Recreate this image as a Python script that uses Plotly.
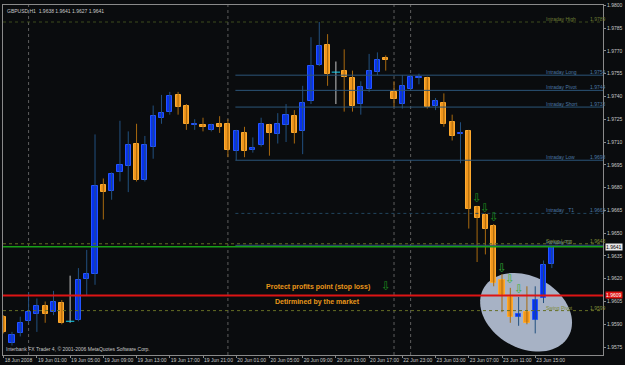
import numpy as np
import pandas as pd
import plotly.graph_objects as go

# ---------------- data ----------------
symbol_title = "GBPUSD,H1  1.9638 1.9641 1.9627 1.9641"
copyright_text = "Interbank FX Trader 4, © 2001-2006 MetaQuotes Software Corp."

bar_times = (list(pd.date_range("2008-06-18 21:00", "2008-06-20 19:00", freq="h"))
             + list(pd.date_range("2008-06-22 22:00", "2008-06-23 17:00", freq="h")))

open_ = [1.9595, 1.9578, 1.9584, 1.9592, 1.9597, 1.9602, 1.9598, 1.9604, 1.9592, 1.9593,
         1.9620, 1.9623, 1.9682, 1.9678, 1.9690, 1.9694, 1.9709, 1.9685, 1.9707, 1.9726,
         1.9730, 1.9741, 1.9734, 1.9721, 1.9721, 1.9718, 1.9722, 1.9722, 1.9704, 1.9716,
         1.9705, 1.9708, 1.9721, 1.9715, 1.9721, 1.9727, 1.9717, 1.9737, 1.9761, 1.9774,
         1.9756, 1.9757, 1.9752, 1.9735, 1.9745, 1.9756, 1.9765, 1.9743, 1.9735, 1.9745,
         1.9752, 1.9752, 1.9734, 1.9736, 1.9723, 1.9715, 1.9717, 1.9667, 1.9662, 1.9655,
         1.9619, 1.9608, 1.9595, 1.9598, 1.9593, 1.9607, 1.9630]
high = [1.9596, 1.9585, 1.9595, 1.9611, 1.9607, 1.9605, 1.9612, 1.9606, 1.9622, 1.9627,
        1.9639, 1.9715, 1.9686, 1.9690, 1.9724, 1.9717, 1.9722, 1.9714, 1.9734, 1.9741,
        1.9743, 1.9743, 1.9735, 1.9725, 1.9726, 1.9722, 1.9727, 1.9725, 1.9718, 1.9720,
        1.9713, 1.9726, 1.9722, 1.9729, 1.9735, 1.9731, 1.9747, 1.9779, 1.9789, 1.9781,
        1.9763, 1.9771, 1.9757, 1.9750, 1.9768, 1.9769, 1.9767, 1.9750, 1.9754, 1.9754,
        1.9755, 1.9753, 1.9739, 1.9742, 1.9728, 1.9723, 1.9718, 1.9668, 1.9663, 1.9656,
        1.9623, 1.9614, 1.9608, 1.9615, 1.9615, 1.9632, 1.9641]
low = [1.9584, 1.9576, 1.9582, 1.9591, 1.9585, 1.9591, 1.9596, 1.9590, 1.9591, 1.9592,
       1.9609, 1.9616, 1.9659, 1.9672, 1.9684, 1.9677, 1.9684, 1.9684, 1.9699, 1.9722,
       1.9728, 1.9728, 1.9718, 1.9718, 1.9717, 1.9717, 1.9716, 1.9700, 1.9698, 1.9700,
       1.9703, 1.9707, 1.9701, 1.9709, 1.9710, 1.9709, 1.9702, 1.9735, 1.9760, 1.9747,
       1.9735, 1.9730, 1.9730, 1.9728, 1.9743, 1.9754, 1.9757, 1.9733, 1.9732, 1.9744,
       1.9748, 1.9732, 1.9731, 1.9720, 1.9711, 1.9696, 1.9653, 1.9631, 1.9636, 1.9615,
       1.9598, 1.9591, 1.9589, 1.9590, 1.9584, 1.9604, 1.9627]
close = [1.9585, 1.9583, 1.9591, 1.9598, 1.9602, 1.9597, 1.9605, 1.9591, 1.9592, 1.9619,
         1.9623, 1.9681, 1.9677, 1.9689, 1.9695, 1.9708, 1.9685, 1.9708, 1.9727, 1.9729,
         1.9740, 1.9733, 1.9722, 1.9722, 1.9720, 1.9721, 1.9720, 1.9705, 1.9717, 1.9704,
         1.9706, 1.9722, 1.9716, 1.9722, 1.9728, 1.9716, 1.9736, 1.9760, 1.9773, 1.9755,
         1.9756, 1.9753, 1.9734, 1.9746, 1.9757, 1.9764, 1.9764, 1.9738, 1.9747, 1.9753,
         1.9753, 1.9733, 1.9737, 1.9722, 1.9714, 1.9716, 1.9666, 1.9660, 1.9653, 1.9617,
         1.9609, 1.9595, 1.9597, 1.9591, 1.9606, 1.9629, 1.9641]

tick_bars = [0, 4, 8, 12, 16, 20, 24, 28, 32, 36, 40, 44, 48, 52, 56, 60, 64]
tick_labels = ["18 Jun 2008", "19 Jun 01:00", "19 Jun 05:00", "19 Jun 09:00", "19 Jun 13:00",
               "19 Jun 17:00", "19 Jun 21:00", "20 Jun 01:00", "20 Jun 05:00", "20 Jun 09:00",
               "20 Jun 13:00", "20 Jun 17:00", "22 Jun 23:00", "23 Jun 03:00", "23 Jun 07:00",
               "23 Jun 11:00", "23 Jun 15:00"]
price_ticks = [1.9575, 1.9590, 1.9605, 1.9620, 1.9635, 1.9650, 1.9665, 1.9680, 1.9695,
               1.9710, 1.9725, 1.9740, 1.9755, 1.9770, 1.9785, 1.9800]

# pivot levels drawn by the indicator
level_names = ["Intraday High", "Intraday Long", "Intraday Pivot", "Intraday Short",
               "Intraday Low", "Intraday   T1", "Intraday T2", "Swing Long", "Swing Pivot"]
level_values = [1.9789, 1.9754, 1.9744, 1.9733, 1.9698, 1.9663, 1.9642, 1.9643, 1.9599]
level_start_bar = [None, 27.9, 27.9, 27.9, 27.9, 27.9, 27.9, None, None]
level_colors = ["#3d4b1d", "#2b5579", "#2b5579", "#2b5579", "#2b5579", "#22465f",
                "#2b5579", "#666f24", "#666f24"]
level_label_colors = ["#6e7d35", "#4a78a5", "#4a78a5", "#4a78a5", "#4a78a5", "#4a78a5",
                      "#4a78a5", "#808c38", "#808c38"]
level_dash = ["dot", "solid", "solid", "solid", "solid", "dot", "solid", "dot", "dot"]
level_show_value = [True, True, True, True, True, True, False, True, True]

current_price = 1.9641
stop_price = 1.9609

# sell signals (bar index, price of arrow)
signal_bars = [46, 57, 58, 59, 60, 61, 62]
signal_prices = [1.96155, 1.96729, 1.96663, 1.96605, 1.96272, 1.96200, 1.96135]
signal_colors = ["#1d8a1d", "#1d8a1d", "#1d8a1d", "#1d8a1d", "#2fa02f", "#3db03d", "#3db03d"]

# ---------------- figure ----------------
W, H = 625, 365
ML, MR, MT, MB = 2, 21, 2, 10
x_range = [-0.08, 72.16]
y_range = [1.956978, 1.98002]
plot_w = W - ML - MR
plot_h = H - MT - MB

BG = "#0a0c0e"
BULL_FILL, BULL_LINE, BULL_WICK = "#0731ee", "#2456ff", "#22507f"
BEAR_FILL, BEAR_LINE, BEAR_WICK = "#f0961c", "#ffaa2e", "#a8690f"
DOJI = "#c4c4c4"
GRAY = "#8a8a8a"
TXT = "#c8c8c8"
FONT = "Liberation Sans"

idx = list(range(len(open_)))
bull = [i for i in idx if close[i] > open_[i]]
bear = [i for i in idx if close[i] < open_[i]]
doji = [i for i in idx if close[i] == open_[i]]


def wick_xy(ids):
    xs, ys = [], []
    for i in ids:
        xs += [i, i, None]
        ys += [low[i], high[i], None]
    return xs, ys


fig = go.Figure()
for ids, wc in ((bull, BULL_WICK), (bear, BEAR_WICK), (doji, DOJI)):
    wx, wy = wick_xy(ids)
    fig.add_trace(go.Scatter(x=wx, y=wy, mode="lines", line=dict(color=wc, width=1),
                             hoverinfo="skip", showlegend=False))

fig.add_trace(go.Bar(x=bull, base=[open_[i] for i in bull],
                     y=[close[i] - open_[i] for i in bull], width=0.62,
                     marker=dict(color=BULL_FILL, line=dict(color=BULL_LINE, width=1)),
                     showlegend=False))
fig.add_trace(go.Bar(x=bear, base=[close[i] for i in bear],
                     y=[open_[i] - close[i] for i in bear], width=0.62,
                     marker=dict(color=BEAR_FILL, line=dict(color=BEAR_LINE, width=1)),
                     showlegend=False))
fig.add_trace(go.Scatter(x=doji, y=[open_[i] for i in doji], mode="markers",
                         marker=dict(symbol="line-ew-open", size=6,
                                     line=dict(color=DOJI, width=1)),
                         showlegend=False))

shapes = []
# highlight ellipse (pixel-sized, rotated) around the reversal
bar_px = plot_w / (x_range[1] - x_range[0])
price_px = plot_h / (y_range[1] - y_range[0])
ell_cx, ell_cy = 62.9, 1.95979
ell_a, ell_b, ell_rot = 49, 36, np.deg2rad(30)
t = np.linspace(0, 2 * np.pi, 80)
dx = ell_a * np.cos(t) * np.cos(ell_rot) - ell_b * np.sin(t) * np.sin(ell_rot)
dy = ell_a * np.cos(t) * np.sin(ell_rot) + ell_b * np.sin(t) * np.cos(ell_rot)
ex = ell_cx + dx / bar_px
ey = ell_cy - dy / price_px
path = "M " + " L ".join(f"{a:.4f},{b:.6f}" for a, b in zip(ex, ey)) + " Z"
shapes.append(dict(type="path", path=path, xref="x", yref="y", layer="below",
                   fillcolor="#a7b2c5", line=dict(width=0)))

# day separators
for i in idx[1:]:
    if bar_times[i].date() != bar_times[i - 1].date():
        shapes.append(dict(type="line", xref="x", yref="paper", x0=i, x1=i, y0=0, y1=1,
                           line=dict(color="#5e5e5e", width=1, dash="dot"), layer="below"))

# level lines
for name, val, st, col, dsh in zip(level_names, level_values, level_start_bar,
                                   level_colors, level_dash):
    shapes.append(dict(type="line", xref="x", yref="y",
                       x0=x_range[0] if st is None else st, x1=x_range[1], y0=val, y1=val,
                       line=dict(color=col, width=1, dash=dsh), layer="above"))
shapes.append(dict(type="line", xref="paper", yref="y", x0=0, x1=1, y0=current_price,
                   y1=current_price, line=dict(color="#18a018", width=1.5), layer="above"))
shapes.append(dict(type="line", xref="paper", yref="y", x0=0, x1=1, y0=stop_price,
                   y1=stop_price, line=dict(color="#dd1414", width=2), layer="above"))

ann = []
for name, val, lc, show in zip(level_names, level_values, level_label_colors, level_show_value):
    ann.append(dict(xref="paper", yref="y", x=(545 - ML) / plot_w, y=val, text=name,
                    xanchor="left", yanchor="middle", yshift=3, showarrow=False,
                    font=dict(family=FONT, size=5, color=lc)))
    if show:
        ann.append(dict(xref="paper", yref="y", x=(589 - ML) / plot_w, y=val,
                        text=f"{val:.4f}", xanchor="left", yanchor="middle", yshift=3,
                        showarrow=False, font=dict(family=FONT, size=5, color=lc)))

# price boxes on the axis
ann.append(dict(xref="paper", yref="y", x=1, xshift=2, y=current_price, xanchor="left",
                yanchor="middle", text=f"{current_price:.4f}", showarrow=False,
                bgcolor="#e8e8e8", borderpad=0, font=dict(family=FONT, size=5, color="#000000")))
ann.append(dict(xref="paper", yref="y", x=1, xshift=2, y=stop_price, xanchor="left",
                yanchor="middle", text=f"{stop_price:.4f}", showarrow=False,
                bgcolor="#e01212", borderpad=0, font=dict(family=FONT, size=5, color="#ffffff")))

# signal arrows
for b, p, c in zip(signal_bars, signal_prices, signal_colors):
    ann.append(dict(xref="x", yref="y", x=b, y=p, text="⇩", showarrow=False, borderpad=0,
                    font=dict(family="DejaVu Sans", size=12, color=c)))

# comments
ann.append(dict(xref="x", yref="y", x=37.8, y=1.96148, text="<b>Protect profits point (stop loss)</b>",
                showarrow=False, font=dict(family=FONT, size=7, color="#e8961a")))
ann.append(dict(xref="x", yref="y", x=37.8, y=1.96044, text="<b>Detirmined by the market</b>",
                showarrow=False, font=dict(family=FONT, size=7, color="#e8961a")))

ann.append(dict(xref="paper", yref="paper", x=0.004, y=1, yshift=-1, xanchor="left",
                yanchor="top", text=symbol_title, showarrow=False,
                font=dict(family=FONT, size=5, color=TXT)))
ann.append(dict(xref="paper", yref="paper", x=0.002, y=0, yshift=1, xanchor="left",
                yanchor="bottom", text=copyright_text, showarrow=False,
                font=dict(family=FONT, size=5, color=TXT)))

fig.update_layout(
    width=W, height=H, margin=dict(l=ML, r=MR, t=MT, b=MB, pad=0),
    paper_bgcolor=BG, plot_bgcolor=BG, barmode="overlay", bargap=0,
    showlegend=False, shapes=shapes, annotations=ann,
    xaxis=dict(range=x_range, tickvals=tick_bars, ticktext=tick_labels, tickangle=0,
               ticklabelposition="outside right", ticks="outside", ticklen=2,
               tickcolor=GRAY, showgrid=False, zeroline=False, showline=True, mirror=True,
               linecolor=GRAY, linewidth=1, tickfont=dict(family=FONT, size=5, color=TXT)),
    yaxis=dict(range=y_range, side="right", tickvals=price_ticks,
               ticktext=[f"{v:.4f}" for v in price_ticks], ticks="outside", ticklen=2,
               tickcolor=GRAY, showgrid=False, zeroline=False, showline=True, mirror=True,
               linecolor=GRAY, linewidth=1, tickfont=dict(family=FONT, size=5, color=TXT)),
)

fig.write_html("out.html")
